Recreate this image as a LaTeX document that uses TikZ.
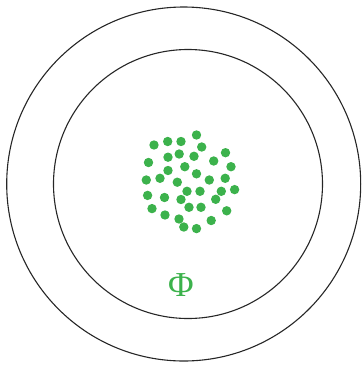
\documentclass[tikz,border=0pt]{standalone}
\usepackage{fontspec}
\newfontfamily\phifont{Liberation Serif}
\definecolor{dotgreen}{RGB}{60,178,76}
\tikzset{
  ring/.style={draw=black!85, line width=1.1pt},
  pdot/.style={circle, fill=dotgreen, inner sep=0pt, minimum size=9.4pt},
}
\begin{document}
\begin{tikzpicture}[x=1pt,y=-1pt]
\useasboundingbox (0,0) rectangle (362,365);
\node[ring, circle, minimum size=354pt, inner sep=0pt] (outer) at (183.7,184) {};
\node[ring, circle, minimum size=269pt, inner sep=0pt] (inner) at (188,184) {};
\foreach \x/\y [count=\i] in {196.5/135,167.7/141.5,181/141.5,154/145,201.7/147,225.5/152.7,179.2/154,194/156.3,168/157.2,148.5/162.5,213.7/161,231/166.7,184.8/166.7,168/170.5,196.5/173.8,160/178.3,146.3/180,209.3/180,225.2/178.3,177.3/182.2,187/191.3,200/191.3,221.3/191.3,234.6/189.6,147.6/195.4,164.5/197.5,181/199.5,215.7/199.3,189/207.3,201/207.3,152/208.6,226.7/210.8,165/215,179/219,211.2/220.5,183.8/227,196.5/228.6}
  \node[pdot] (d\i) at (\x,\y) {};
\node[text=dotgreen, font=\phifont\fontsize{35}{35}\selectfont, inner sep=0pt] (phi) at (181,285) {Φ};
\end{tikzpicture}
\end{document}
